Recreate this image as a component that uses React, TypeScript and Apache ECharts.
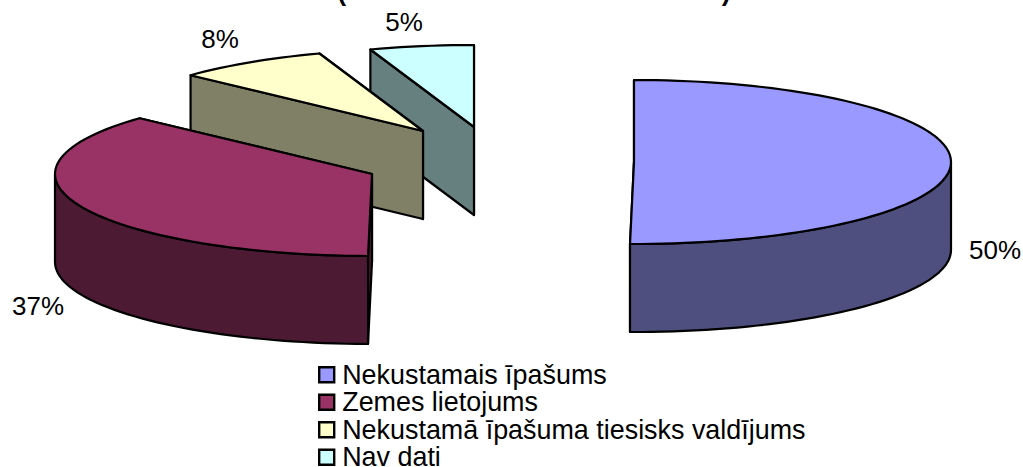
import React, { useEffect, useRef } from "react";
import * as echarts from "echarts";

const names = ["Nekustamais īpašums", "Zemes lietojums", "Nekustamā īpašuma tiesisks valdījums", "Nav dati"];
const shares = [50.2, 36.7, 7.8, 5.3];
const topColors = ["#9999FF", "#993366", "#FFFFCC", "#CCFFFF"];
const wallColors = ["#4F4F7F", "#4D1A33", "#808066", "#668080"];
const apexX = [634, 372, 423, 474];
const apexY = [162, 174, 131, 127];
const labelX = [995, 38, 220, 404];
const labelY = [250, 306, 39, 22];

const RX = 317;
const RY = 82;
const DEPTH = 88;
const FONT = "Liberation Sans";
const TITLE = "(" + "\u00A0".repeat(52) + ")";

function renderSlice(index: number) {
  return (_params: any, api: any) => {
    const value = api.value(0);
    const total = shares.reduce((a, b) => a + b, 0);
    const before = shares.slice(0, index).reduce((a, b) => a + b, 0);
    const start = (before / total) * 360;
    const end = start + (value / total) * 360;
    const cx = apexX[index];
    const cy = apexY[index];
    const at = (deg: number, drop = 0) => {
      const r = (deg * Math.PI) / 180;
      return [cx + RX * Math.sin(r), cy - RY * Math.cos(r) + drop];
    };
    const arc = (a: number, b: number, drop = 0) => {
      const steps = Math.max(2, Math.ceil((b - a) / 2));
      const pts: number[][] = [];
      for (let i = 0; i <= steps; i++) pts.push(at(a + ((b - a) * i) / steps, drop));
      return pts;
    };
    const line = { stroke: "#000", lineWidth: 2.2, lineJoin: "round" };
    const poly = (points: number[][], fill: string) => ({
      type: "polygon",
      shape: { points },
      style: { fill, ...line },
    });
    const cut = (deg: number) =>
      poly([[cx, cy], at(deg), at(deg, DEPTH), [cx, cy + DEPTH]], wallColors[index]);
    const children: any[] = [cut(end), cut(start)];
    const rimA = Math.max(start, 90);
    const rimB = Math.min(end, 270);
    if (rimB > rimA) {
      children.push(poly([...arc(rimA, rimB), ...arc(rimA, rimB, DEPTH).reverse()], wallColors[index]));
    }
    children.push(poly([[cx, cy], ...arc(start, end)], topColors[index]));
    children.push({
      type: "text",
      style: {
        text: `${Math.round(value)}%`,
        x: labelX[index],
        y: labelY[index],
        fill: "#000",
        font: `26px "${FONT}"`,
        align: "center",
        verticalAlign: "middle",
      },
    });
    return { type: "group", children };
  };
}

export default function App() {
  const ref = useRef<HTMLDivElement>(null);
  useEffect(() => {
    const chart = echarts.init(ref.current!, undefined, { renderer: "svg" });
    chart.setOption({
      animation: false,
      backgroundColor: "#fff",
      title: {
        text: TITLE,
        left: 529,
        top: -26,
        textAlign: "center",
        textStyle: { fontFamily: FONT, fontSize: 26, fontWeight: "bold", color: "#000" },
      },
      legend: {
        orient: "vertical",
        left: 318,
        top: 361,
        width: 600,
        height: 200,
        padding: 0,
        itemGap: 0,
        itemWidth: 15,
        itemHeight: 15,
        icon: "rect",
        selectedMode: false,
        data: names,
        itemStyle: { borderColor: "#000", borderWidth: 2.4 },
        textStyle: { fontFamily: FONT, fontSize: 26.9, color: "#000", padding: [0, 0, 0, 3], lineHeight: 27.5 },
      },
      series: names
        .map((name, i) => ({
          type: "custom",
          name,
          coordinateSystem: "none",
          silent: true,
          itemStyle: { color: topColors[i] },
          data: [[shares[i]]],
          renderItem: renderSlice(i),
        }))
        .reverse(),
    });
    return () => chart.dispose();
  }, []);
  return <div ref={ref} style={{ position: "fixed", left: 0, top: 0, width: 1023, height: 467 }} />;
}
